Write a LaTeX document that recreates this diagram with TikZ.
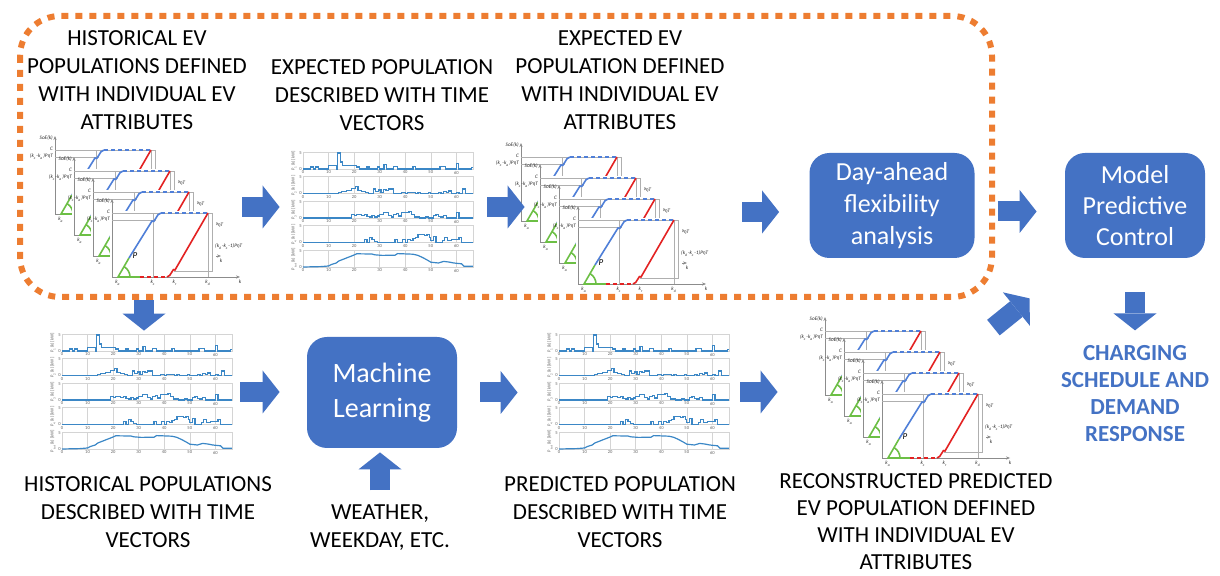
\documentclass[tikz,border=0pt]{standalone}
\usepackage{fontspec}
\setmainfont{Carlito}
\usetikzlibrary{arrows.meta,positioning}
\definecolor{OfficeBlue}  {HTML}{4472C4}
\definecolor{OfficeOrange}{HTML}{ED7D31}
\definecolor{TraceBlue}   {HTML}{3B87C6}
\definecolor{SocBlue}     {HTML}{4F7FD8}
\definecolor{SocRed}      {HTML}{E32222}
\definecolor{SocGreen}    {HTML}{6CBF45}
\definecolor{GridGray}    {HTML}{D4D4D4}
\definecolor{AxisGray}    {HTML}{8C8C8C}

\tikzset{
  flexframe/.style={draw=OfficeOrange,line width=3pt,dash pattern=on 3.5pt off 3.5pt,rounded corners=20pt},
  stagebox/.style={fill=OfficeBlue,text=white,rounded corners=10pt,align=center,inner sep=0pt},
  caption/.style={align=center,font=\fontsize{11.5}{14}\selectfont,inner sep=0pt,anchor=north},
  outcome/.style={align=center,font=\bfseries\fontsize{11.5}{13.5}\selectfont,text=OfficeBlue,inner sep=0pt},
  blockarrow/.style={draw=OfficeBlue,line width=10pt,-{Triangle[length=8.5pt,width=21.5pt,line width=0pt]}},
  figslot/.style 2 args={minimum width=#1,minimum height=#2,inner sep=0pt},
  tinylabel/.style={font=\itshape\fontsize{2.6}{3}\selectfont,inner sep=0.4pt,text=black!85},
  ticklabel/.style={font=\fontsize{2.3}{2.7}\selectfont,inner sep=0.5pt,text=black!60},
  axisline/.style={draw=AxisGray,line width=0.3pt},
  frameline/.style={draw=AxisGray!70,line width=0.25pt},
  trace/.style={draw=TraceBlue,line width=0.6pt},
}

% one SoE panel, origin at the axis corner, y pointing up
\newcommand{\evpanel}{%
  \fill[white] (-2,-2) rectangle (104,66);
  \draw[axisline,-{Stealth[length=2pt,width=1.6pt]}] (0,0) -- (0,78);
  \draw[axisline,-{Stealth[length=2pt,width=1.6pt]}] (0,0) -- (128,0);
  \draw[frameline] (0,64) -- (100,64) -- (100,6) -- (62,6);
  \draw[frameline] (0,57) -- (44,57);
  \draw[frameline] (41,0) -- (41,64) (96,0) -- (96,64);
  \draw[SocGreen,line width=0.8pt] (28,0) -- (6,0) -- (17,19);
  \draw[SocGreen,line width=0.8pt] (18,0) arc[start angle=0,end angle=58,radius=12];
  \draw[SocBlue,line width=0.8pt] (17,19) -- (40,56) to[out=58,in=180] (49,64);
  \draw[SocBlue,line width=0.8pt,dash pattern=on 2pt off 1.5pt] (49,64) -- (96,64);
  \draw[SocRed,line width=0.8pt,dash pattern=on 2pt off 1.5pt] (28,0) -- (55,0);
  \draw[SocRed,line width=0.8pt] (55,0) to[out=0,in=240] (63,7) -- (96,64);
  \node[tinylabel,anchor=east] at (-1,76) {SoE(k)};
  \node[tinylabel,anchor=east] at (-1,65) {C};
  \node[tinylabel,anchor=east] at (-1,57) {(k\textsubscript{c}-k\textsubscript{a})PηT};
  \node[tinylabel,anchor=west] at (102,30) {(k\textsubscript{d}-k\textsubscript{c}-1)PηT};
  \node[font=\itshape\fontsize{4.5}{5}\selectfont,inner sep=0pt] at (23,21) {P};
  \node[tinylabel,anchor=north] at (6,-2) {k\textsubscript{a}};
  \node[tinylabel,anchor=north] at (41,-2) {k\textsubscript{c}};
  \node[tinylabel,anchor=north] at (63,-2) {k\textsubscript{r}};
  \node[tinylabel,anchor=north] at (96,-2) {k\textsubscript{d}};
  \node[tinylabel,anchor=north] at (128,-2) {k};
}

% four stacked panels, #1 = corner of the front panel
\newcommand{\evstack}[1]{%
  \begin{scope}[shift={(#1)},yscale=-1]
    \foreach \n in {3,2,1,0}{
      \begin{scope}[shift={(-19*\n,21*\n)}]
        \evpanel
      \end{scope}}
  \end{scope}}

% five power time vectors, #1 = corner of the top strip
\newcommand{\timevectors}[1]{%
  \begin{scope}[shift={(#1)},yscale=-1]
    \foreach \k/\lab in {0/P\textsubscript{1}(k),1/P\textsubscript{2}(k),2/P\textsubscript{3}(k),3/P\textsubscript{4}(k),4/P\textsubscript{tot}(k)}{
      \begin{scope}[shift={(0,-24.5*\k)}]
        \draw[GridGray,line width=0.2pt] (0,0) rectangle (170,17);
        \foreach \t in {1,...,6}
          \draw[GridGray,line width=0.2pt] (\t*25.56,0) -- (\t*25.56,17);
        \foreach \t in {0,...,6}
          \node[ticklabel,anchor=north] at (\t*25.56,-0.5) {\the\numexpr\t*10\relax};
        \node[ticklabel,anchor=east] at (0,16) {5};
        \node[ticklabel,anchor=east] at (0,0) {0};
        \node[ticklabel,rotate=90] at (-9,8) {\lab\ [kW]};
      \end{scope}}
    \begin{scope}[xscale=2.556,yscale=3.2]
      \draw[trace] plot[const plot] coordinates {(0,0) (3,0.6) (4,0) (5,0.6) (6,0) (10,1.2) (13,0) (13.6,5) (14.6,2.2) (15.6,1.2) (21,0.6) (22,0) (25,0.6) (25.8,0) (29,0.6) (30,0) (31.7,1.3) (32.6,0) (35.3,0.9) (37,0) (43,0.7) (44,0) (53.6,0.8) (55.8,0) (60,1.6) (60.9,0) (66,0.4) (66.5,0.4)};
    \end{scope}
    \begin{scope}[shift={(0,-24.5)},xscale=2.556,yscale=3.2]
      \draw[trace] plot[const plot] coordinates {(0,0) (14,0.3) (15,0.6) (17,1) (19,1.6) (20.5,2.1) (21.5,1) (23,0.6) (24.5,0.3) (25.5,0) (27.5,1.4) (28.5,0.6) (29.5,1.1) (30.5,0.4) (31.5,1.3) (32.5,1.0) (33.5,1.4) (35.5,0) (38.5,0.3) (40,0) (41,0.4) (43,0.3) (44,0) (45,0.4) (46,0) (49,0.3) (50,0) (53,0.4) (54,0) (55,0.5) (56,0.2) (57,0.8) (58,0) (60,0.4) (61,0) (62.5,1.4) (63.5,0) (66.5,0)};
    \end{scope}
    \begin{scope}[shift={(0,-49)},xscale=2.556,yscale=3.2]
      \draw[trace] plot[const plot] coordinates {(0,0) (19,1) (20,0.7) (21,1) (22,1.2) (23,0.7) (24,1) (25,0.5) (26,0.3) (27,0.8) (28,0.3) (29,0.6) (30,1) (31.5,1.8) (33.5,0.8) (34.5,0.3) (35.5,1.2) (36.5,1.3) (37.5,0.6) (38.5,1.6) (40.5,1.8) (41.5,2.1) (42.5,1.1) (43.5,0.3) (45.5,0) (48,0.3) (49,0) (51,0.9) (52,1.2) (53,0.5) (54,0.3) (55,0.9) (56,0) (60,1.6) (61,0) (66.5,0)};
    \end{scope}
    \begin{scope}[shift={(0,-73.5)},xscale=2.556,yscale=3.2]
      \draw[trace] plot[const plot] coordinates {(0,0) (24,1) (25,0) (26,1.6) (27,1) (28,0.4) (29,0) (36,1) (37,0) (39,1) (40,0) (41,1) (42,0.6) (43,1.2) (44,1.5) (45,2.6) (46.5,2.5) (47.5,2.1) (48.5,2.6) (49.5,1.5) (50,0.6) (51,1.8) (52,0) (54.5,0.6) (55.5,1.6) (56.5,0.6) (58,1) (60,1) (61,1.6) (62,0) (66.5,0)};
    \end{scope}
    \begin{scope}[shift={(0,-98)},xscale=2.556,yscale=2]
      \draw[trace] (0,0) -- (7,0.2) -- (10,0.5) -- (11,1.2) -- (13,2) -- (14,3) -- (16,4) -- (18,5) -- (20,6) -- (21,6.6) -- (27,6.5) -- (28,6.1) -- (31,5.8) -- (36,5.9) -- (37,6.7) -- (43,6.4) -- (45,5.8) -- (47,4.6) -- (49,3.2) -- (50,2.4) -- (53,2) -- (55,2.8) -- (57,2.5) -- (59,2) -- (62,1.6) -- (63,0.4) -- (66.5,0.4);
    \end{scope}
  \end{scope}}

\begin{document}
\begin{tikzpicture}[x=0.5pt,y=-0.5pt]
  \useasboundingbox (0,0) rectangle (1220,576);

  % day-ahead part
  \draw[flexframe] (20,16) rectangle (992,297);

  % pictures
  \node[figslot={98pt}{80pt}] (histattr) at (144,207) {};
  \evstack{112,277}
  \node[figslot={97pt}{66.5pt}] (expvec) at (380,207) {};
  \timevectors{303,169}
  \node[figslot={102.5pt}{80pt}] (expattr) at (632.5,212) {};
  \evstack{578,284}
  \node[figslot={92pt}{60pt}] (histvec) at (144,392) {};
  \timevectors{62,351}
  \node[figslot={96pt}{60pt}] (predvec) at (626,392) {};
  \timevectors{559,351}
  \node[figslot={110pt}{70pt}] (recattr) at (900,392) {};
  \evstack{882,458}

  % captions
  \node[caption] (histattrtext) at (137,30.5) {HISTORICAL EV\\POPULATIONS DEFINED\\WITH INDIVIDUAL EV\\ATTRIBUTES};
  \node[caption] (expvectext) at (382,59.5) {EXPECTED POPULATION\\DESCRIBED WITH TIME\\VECTORS};
  \node[caption] (expattrtext) at (620,30.5) {EXPECTED EV\\POPULATION DEFINED\\WITH INDIVIDUAL EV\\ATTRIBUTES};
  \node[caption] (histvectext) at (148,476.5) {HISTORICAL POPULATIONS\\DESCRIBED WITH TIME\\VECTORS};
  \node[caption] (weather) at (380,504.5) {WEATHER,\\WEEKDAY, ETC.};
  \node[caption] (predvectext) at (620,476.5) {PREDICTED POPULATION\\DESCRIBED WITH TIME\\VECTORS};
  \node[caption,font=\fontsize{11.5}{13.6}\selectfont] (recattrtext) at (916,473) {RECONSTRUCTED PREDICTED\\EV POPULATION DEFINED\\WITH INDIVIDUAL EV\\ATTRIBUTES};

  % blocks
  \node[stagebox,minimum width=82.5pt,minimum height=52.5pt,font=\fontsize{13}{16}\selectfont] (dayahead) at (892,205.5) {Day-ahead\\flexibility\\analysis};
  \node[stagebox,minimum width=70pt,minimum height=52.5pt,font=\fontsize{13}{15.5}\selectfont] (mpc) at (1135,205.5) {Model\\Predictive\\Control};
  \node[stagebox,minimum width=75pt,minimum height=55.5pt,font=\fontsize{14}{17.5}\selectfont] (ml) at (382,392.5) {Machine\\Learning};
  \node[outcome,anchor=north,below=43.5pt of mpc] (charging) {CHARGING\\SCHEDULE AND\\DEMAND\\RESPONSE};

  % arrows
  \draw[blockarrow] (histattr.east) -- ([xshift=-1.5pt]expvec.west);
  \draw[blockarrow] ([xshift=5pt]expvec.east) -- ([xshift=-2.5pt]expvec.east -| expattr.west);
  \draw[blockarrow] ([xshift=3.5pt]expattr.east) -- ([xshift=-15pt]expattr.east -| dayahead.west);
  \draw[blockarrow] ([xshift=11.5pt,yshift=-3pt]dayahead.east) -- ([xshift=-14pt,yshift=-3pt]mpc.west);
  \draw[blockarrow] ([yshift=-17pt]mpc.south) -- ([yshift=7.5pt]charging.north);
  \draw[blockarrow] ([yshift=-6.5pt]histattr.south) -- ([yshift=0.5pt]histvec.north);
  \draw[blockarrow] ([xshift=2pt]histvec.east) -- ([xshift=-13.5pt]histvec.east -| ml.west);
  \draw[blockarrow] ([xshift=11.5pt]ml.east) -- ([xshift=-6pt]ml.east -| predvec.west);
  \draw[blockarrow] ([xshift=9pt]predvec.east) -- ([xshift=-6pt]recattr.west);
  \draw[blockarrow] ([yshift=7pt]weather.north) -- ([yshift=-2pt]weather.north |- ml.south);
  \draw[blockarrow] ([shift={(-8.5pt,-3pt)}]recattr.north east) -- ([shift={(-17.5pt,-20pt)}]mpc.south west);
\end{tikzpicture}
\end{document}
